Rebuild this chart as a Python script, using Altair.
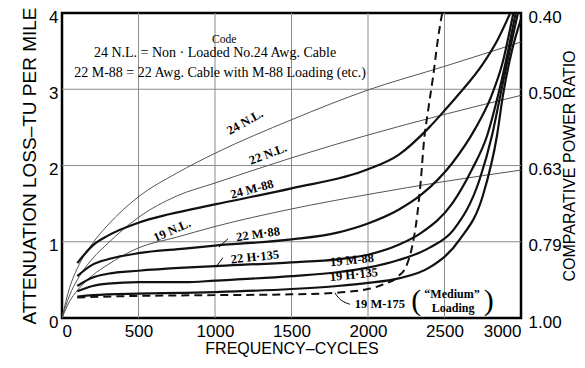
import altair as alt
import pandas as pd

# ---------------- data (frequency in cycles, loss in TU per mile) ----------------
nl24_f = [0, 50, 100, 200, 300, 500, 750, 1000, 1500, 2000, 2500, 3000]
nl24_v = [0, 0.40, 0.65, 0.98, 1.22, 1.59, 1.90, 2.16, 2.60, 2.99, 3.30, 3.62]

nl22_f = [0, 50, 100, 200, 300, 500, 750, 1000, 1500, 2000, 2500, 3000]
nl22_v = [0, 0.30, 0.50, 0.78, 0.98, 1.32, 1.60, 1.77, 2.10, 2.40, 2.67, 2.92]

nl19_f = [0, 50, 100, 200, 300, 500, 750, 1000, 1500, 2000, 2500, 3000]
nl19_v = [0, 0.22, 0.36, 0.56, 0.70, 0.92, 1.06, 1.20, 1.43, 1.62, 1.79, 1.94]

m24_88_f = [100, 200, 300, 500, 700, 1000, 1500, 2000, 2200, 2400, 2500, 2600, 2750, 2850, 2930]
m24_88_v = [0.72, 0.95, 1.08, 1.25, 1.36, 1.49, 1.70, 1.95, 2.14, 2.50, 2.72, 2.95, 3.33, 3.66, 4.0]

m22_88_f = [100, 200, 300, 500, 800, 1000, 1500, 1800, 2000, 2200, 2350, 2550, 2700, 2800, 2880, 2950]
m22_88_v = [0.55, 0.70, 0.77, 0.85, 0.91, 0.95, 1.03, 1.12, 1.24, 1.42, 1.62, 2.03, 2.48, 2.88, 3.35, 4.0]

h22_135_f = [100, 200, 300, 500, 800, 1000, 1500, 1800, 2000, 2200, 2350, 2550, 2680, 2780, 2850, 2910, 2965]
h22_135_v = [0.42, 0.53, 0.58, 0.62, 0.66, 0.68, 0.73, 0.77, 0.83, 0.96, 1.12, 1.50, 1.95, 2.40, 2.92, 3.45, 4.0]

m19_88_f = [100, 200, 300, 500, 800, 1000, 1500, 1800, 2000, 2200, 2400, 2560, 2730, 2810, 2865, 2925, 2980]
m19_88_v = [0.35, 0.42, 0.45, 0.47, 0.47, 0.49, 0.55, 0.60, 0.66, 0.76, 0.92, 1.16, 1.82, 2.39, 2.92, 3.50, 4.0]

h19_135_f = [100, 200, 500, 800, 1000, 1500, 1800, 2000, 2200, 2400, 2600, 2750, 2843, 2882, 2940, 3000]
h19_135_v = [0.28, 0.30, 0.32, 0.33, 0.34, 0.38, 0.42, 0.46, 0.52, 0.66, 1.03, 1.60, 2.39, 2.92, 3.50, 3.92]

m19_175_f = [100, 500, 1000, 1500, 1700, 1900, 2000, 2100, 2200, 2250, 2290, 2320, 2345, 2365, 2395, 2425, 2460, 2485]
m19_175_v = [0.27, 0.29, 0.30, 0.31, 0.32, 0.35, 0.38, 0.44, 0.55, 0.68, 0.95, 1.32, 1.80, 2.30, 2.75, 3.16, 3.70, 4.0]

x_ticks = [0, 500, 1000, 1500, 2000, 2500, 3000]
y_ticks = [0, 1, 2, 3, 4]
power_ratio_labels = ["1.00", "0.79", "0.63", "0.50", "0.40"]

# curve labels
label_text = ["24 N.L.", "22 N.L.", "24 M-88", "19 N.L.", "22 M·88", "22 H·135",
              "19 M-88", "19 H·135", "19 M-175"]
label_f = [1196, 1346, 1242, 719, 1281, 1261, 1895, 1908, 2078]
label_v = [2.57, 2.15, 1.69, 1.15, 1.10, 0.80, 0.76, 0.57, 0.19]
label_angle = [331, 339, 345, 336, 352, 354, 354, 354, 0]

# code legend block
code_title = ["Code"]
code_title_f = [1060]
code_title_v = [3.64]
code_text = ["24 N.L. = Non · Loaded No.24 Awg. Cable",
             "22 M-88 = 22 Awg. Cable with M-88 Loading (etc.)"]
code_f = [1000, 1033]
code_v = [3.47, 3.21]

medium_text = ["\u201cMedium\u201d", "Loading"]
medium_f = [2549, 2556]
medium_v = [0.32, 0.13]
paren_text = ["(", ")"]
paren_f = [2315, 2790]
paren_v = [0.22, 0.22]

# leader lines (label -> curve)
leader_id = ["a", "a", "b", "b", "c", "c", "c"]
leader_f = [1085, 1026, 1052, 1006, 1882, 1797, 1784]
leader_v = [1.04, 0.93, 0.79, 0.67, 0.18, 0.29, 0.33]

# ---------------- frames ----------------
def mk(name, fs, vs):
    return pd.DataFrame({"curve": name, "f": fs, "v": vs})

thin_df = pd.concat([mk("24 N.L.", nl24_f, nl24_v), mk("22 N.L.", nl22_f, nl22_v),
                     mk("19 N.L.", nl19_f, nl19_v)])
thick_df = pd.concat([mk("24 M-88", m24_88_f, m24_88_v), mk("22 M-88", m22_88_f, m22_88_v),
                      mk("22 H-135", h22_135_f, h22_135_v), mk("19 M-88", m19_88_f, m19_88_v),
                      mk("19 H-135", h19_135_f, h19_135_v)])
dash_df = mk("19 M-175", m19_175_f, m19_175_v)
labels_df = pd.DataFrame({"f": label_f, "v": label_v, "t": label_text, "a": label_angle})
code_title_df = pd.DataFrame({"f": code_title_f, "v": code_title_v, "t": code_title})
code_df = pd.DataFrame({"f": code_f, "v": code_v, "t": code_text})
medium_df = pd.DataFrame({"f": medium_f, "v": medium_v, "t": medium_text})
paren_df = pd.DataFrame({"f": paren_f, "v": paren_v, "t": paren_text})
leader_df = pd.DataFrame({"id": leader_id, "f": leader_f, "v": leader_v})
tick_df = pd.DataFrame({"f": [0] * len(y_ticks), "v": y_ticks})
vgrid_df = pd.DataFrame({"f": x_ticks[1:-1]})
hgrid_df = pd.DataFrame({"v": y_ticks[1:-1]})

xs = alt.Scale(domain=[0, 3000], nice=False, zero=False)
ys = alt.Scale(domain=[0, 4], nice=False)

x_axis = alt.X("f:Q", scale=xs, axis=alt.Axis(values=x_ticks, format="d", title="FREQUENCY\u2013CYCLES",
                                               grid=False, labelPadding=5, titlePadding=1,
                                               labelFontSize=17, titleFontSize=16))
y_axis = alt.Y("v:Q", scale=ys, axis=alt.Axis(values=y_ticks, format="d", grid=False,
                                               title="ATTENUATION LOSS\u2013TU PER MILE",
                                               labelPadding=4, titlePadding=9, titleFontSize=19,
                                               labelFontSize=17, labelOffset=4))
x_no = alt.X("f:Q", scale=xs, axis=None)
y_no = alt.Y("v:Q", scale=ys, axis=None)
label_expr = "[" + ",".join("'" + s + "'" for s in power_ratio_labels) + "][datum.value]"
y_right = alt.Y("v:Q", scale=ys, axis=alt.Axis(values=y_ticks, orient="right", labelExpr=label_expr,
                                                grid=False, title="COMPARATIVE POWER RATIO",
                                                titleAngle=270, titleBaseline="top",
                                                labelPadding=7, titlePadding=0, labelFontSize=17,
                                                titleFontSize=16, labelOffset=4))

vgrid = alt.Chart(vgrid_df).mark_rule(color="#8c8c8c", strokeWidth=1).encode(x=x_no)
hgrid = alt.Chart(hgrid_df).mark_rule(color="#8c8c8c", strokeWidth=1).encode(y=y_no)

thin = alt.Chart(thin_df).mark_line(color="#555", strokeWidth=1, interpolate="monotone", clip=True).encode(
    x=x_axis, y=y_axis, detail="curve:N")
thick = alt.Chart(thick_df).mark_line(color="#111", strokeWidth=2.2, interpolate="monotone", clip=True).encode(
    x=x_no, y=y_no, detail="curve:N")
dashed = alt.Chart(dash_df).mark_line(color="#111", strokeWidth=2, strokeDash=[8, 5],
                                      interpolate="monotone", clip=True).encode(x=x_no, y=y_no)
right_ax = alt.Chart(tick_df).mark_point(opacity=0).encode(x=x_no, y=y_right)

serif = "Liberation Serif"
labels = alt.Chart(labels_df).mark_text(font=serif, fontSize=12.5, fontWeight="bold", color="black").encode(
    x=x_no, y=y_no, text="t:N", angle=alt.Angle("a:Q", scale=None))
code_title_m = alt.Chart(code_title_df).mark_text(font=serif, fontSize=11.5, color="black").encode(
    x=x_no, y=y_no, text="t:N")
code = alt.Chart(code_df).mark_text(font=serif, fontSize=14, color="black").encode(
    x=x_no, y=y_no, text="t:N")
medium = alt.Chart(medium_df).mark_text(font=serif, fontSize=12, fontWeight="bold", color="black").encode(
    x=x_no, y=y_no, text="t:N")
paren = alt.Chart(paren_df).mark_text(font=serif, fontSize=30, color="black").encode(
    x=x_no, y=y_no, text="t:N")
leaders = alt.Chart(leader_df).mark_line(color="black", strokeWidth=1, interpolate="monotone").encode(
    x=x_no, y=y_no, detail="id:N")

chart = alt.layer(vgrid, hgrid, thin, thick, dashed, right_ax, labels, code_title_m, code, medium,
                  paren, leaders).resolve_axis(
    x="independent", y="independent"
).properties(
    width=459, height=305,
    padding={"left": 54, "top": 5, "right": 56, "bottom": 40},
    autosize=alt.AutoSizeParams(type="none"),
    background="white",
).configure_view(
    stroke="black", strokeWidth=2.5
).configure_axis(
    labelFont="Liberation Sans", labelFontSize=18, labelColor="black",
    titleFont="Liberation Sans", titleFontSize=17, titleFontWeight="normal", titleColor="black",
    tickSize=0, domain=False,
)

chart.save("out.html", embed_options={"renderer": "svg", "actions": False})
